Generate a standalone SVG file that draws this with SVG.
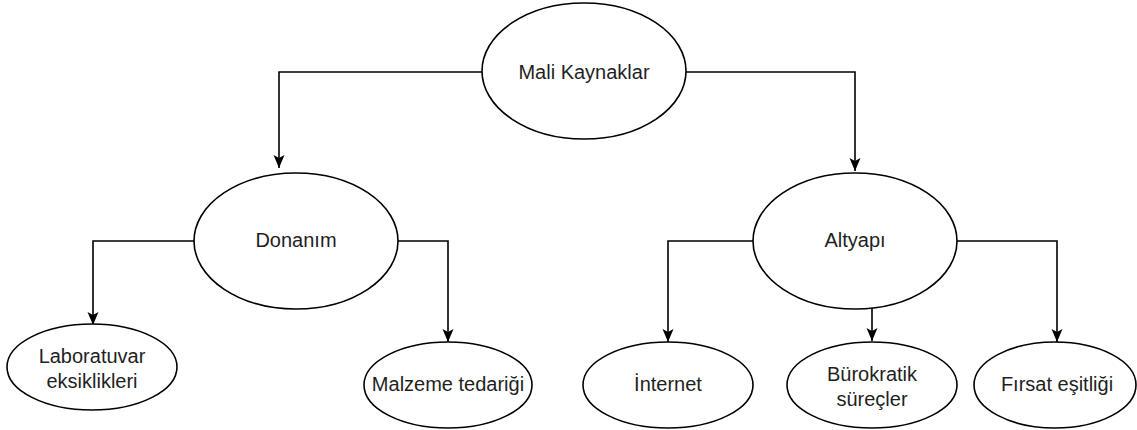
<svg xmlns="http://www.w3.org/2000/svg" width="1137" height="430" viewBox="0 0 1137 430">
  <defs>
    <style>
      .node ellipse { fill: #ffffff; stroke: #000000; stroke-width: 1.6; }
      .node text { font-family: "Liberation Sans", Arial, sans-serif; font-size: 20px; fill: #1f1f1f; text-anchor: middle; }
      .edge { fill: none; stroke: #000000; stroke-width: 1.6; marker-end: url(#arrow); }
    </style>
    <marker id="arrow" markerUnits="userSpaceOnUse" markerWidth="14" markerHeight="12" viewBox="0 0 14 12" refX="13" refY="6" orient="auto">
      <path d="M0,0.5 L13,6 L0,11.5 L3,6 Z" fill="#000000"/>
    </marker>
  </defs>
  <rect width="1137" height="430" fill="#ffffff"/>
  <g id="connectors">
    <path class="edge" d="M482,72 H279 V168"/>
    <path class="edge" d="M686,72 H855 V171"/>
    <path class="edge" d="M194,241 H93 V325"/>
    <path class="edge" d="M398,241 H448 V342"/>
    <path class="edge" d="M753,241 H668 V342"/>
    <path class="edge" d="M872,308 V341"/>
    <path class="edge" d="M957,241 H1057 V342"/>
  </g>
  <g id="mali-kaynaklar" class="node">
    <ellipse cx="584" cy="71" rx="102" ry="68"/>
    <text x="584" y="79">Mali Kaynaklar</text>
  </g>
  <g id="donanim" class="node">
    <ellipse cx="296" cy="241" rx="102" ry="68"/>
    <text x="296" y="247">Donanım</text>
  </g>
  <g id="altyapi" class="node">
    <ellipse cx="855" cy="241" rx="102" ry="68"/>
    <text x="855" y="247">Altyapı</text>
  </g>
  <g id="laboratuvar" class="node">
    <ellipse cx="92" cy="367" rx="85" ry="43"/>
    <text x="92" y="363">Laboratuvar</text>
    <text x="92" y="388">eksiklikleri</text>
  </g>
  <g id="malzeme" class="node">
    <ellipse cx="448" cy="385" rx="84" ry="43"/>
    <text x="448" y="391">Malzeme tedariği</text>
  </g>
  <g id="internet" class="node">
    <ellipse cx="668" cy="385" rx="85" ry="43"/>
    <text x="668" y="391">İnternet</text>
  </g>
  <g id="burokratik" class="node">
    <ellipse cx="872" cy="385" rx="85" ry="43"/>
    <text x="872" y="381">Bürokratik</text>
    <text x="872" y="406">süreçler</text>
  </g>
  <g id="firsat" class="node">
    <ellipse cx="1055" cy="385" rx="81" ry="43"/>
    <text x="1057" y="391">Fırsat eşitliği</text>
  </g>
</svg>
